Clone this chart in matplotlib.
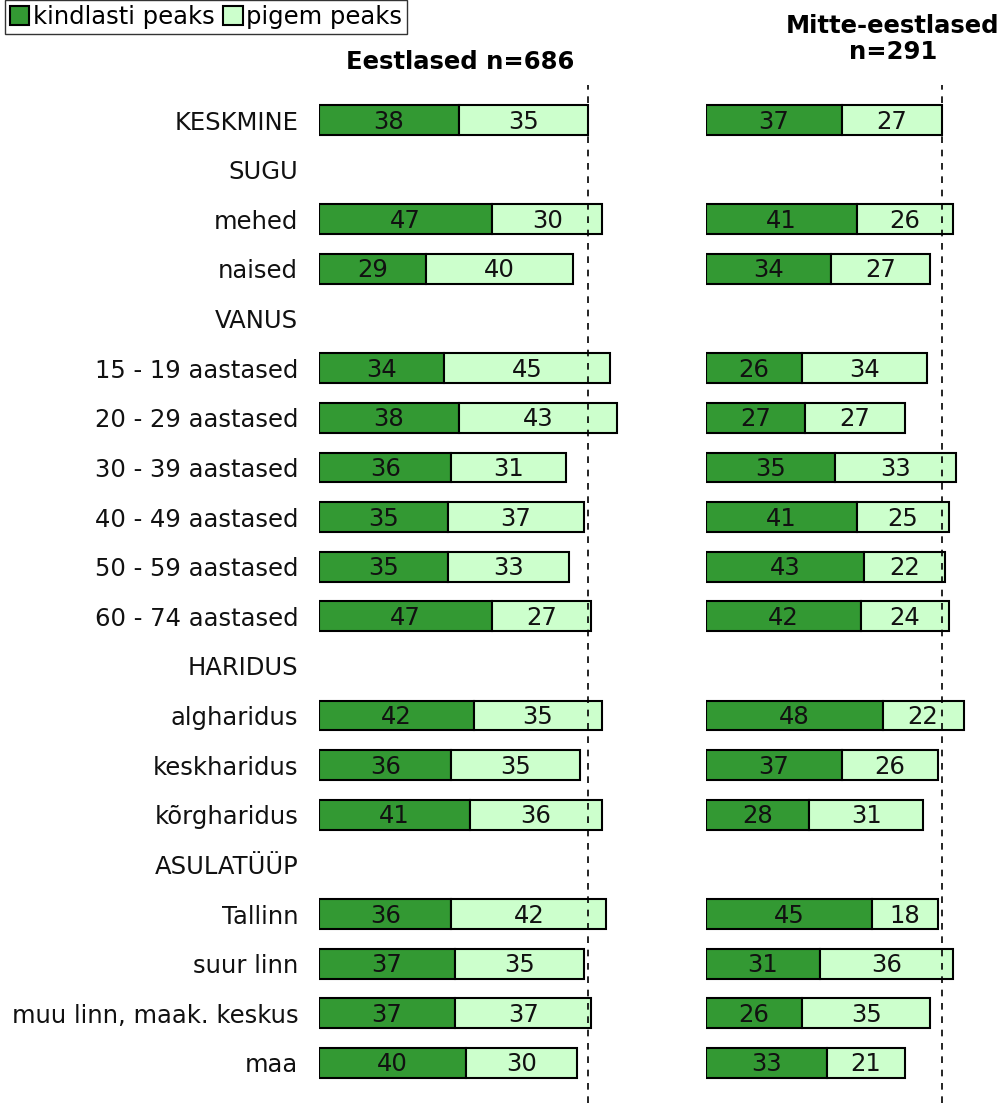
import matplotlib

matplotlib.use("Agg")
import matplotlib.pyplot as plt
from matplotlib.patches import Patch
import numpy as np

DARK = "#339933"
LIGHT = "#ccffcc"
FS = 17.5

categories = [
    "KESKMINE", "SUGU", "mehed", "naised", "VANUS",
    "15 - 19 aastased", "20 - 29 aastased", "30 - 39 aastased",
    "40 - 49 aastased", "50 - 59 aastased", "60 - 74 aastased",
    "HARIDUS", "algharidus", "keskharidus", "kõrgharidus",
    "ASULATÜÜP", "Tallinn", "suur linn", "muu linn, maak. keskus", "maa",
]

# None marks a group heading row without bars
est_sure = [38, None, 47, 29, None, 34, 38, 36, 35, 35, 47, None, 42, 36, 41, None, 36, 37, 37, 40]
est_rather = [35, None, 30, 40, None, 45, 43, 31, 37, 33, 27, None, 35, 35, 36, None, 42, 35, 37, 30]
non_sure = [37, None, 41, 34, None, 26, 27, 35, 41, 43, 42, None, 48, 37, 28, None, 45, 31, 26, 33]
non_rather = [27, None, 26, 27, None, 34, 27, 33, 25, 22, 24, None, 22, 26, 31, None, 18, 36, 35, 21]

W, H = 998, 1104
fig = plt.figure(figsize=(W / 100, H / 100), dpi=100)
fig.patch.set_facecolor("white")

PX_PER_UNIT = 3.68
top_px, bot_px = 85.3, 1102.7


def panel(left_px, xmax, sure, rather, show_labels):
    width_px = xmax * PX_PER_UNIT
    ax = fig.add_axes([left_px / W, 1 - bot_px / H, width_px / W, (bot_px - top_px) / H])
    y = np.arange(len(categories))
    for i, (a, b) in enumerate(zip(sure, rather)):
        if a is None:
            continue
        ax.barh(i, a, height=0.6, color=DARK, edgecolor="black", linewidth=1.5)
        ax.barh(i, b, left=a, height=0.6, color=LIGHT, edgecolor="black", linewidth=1.5)
        ax.text(a / 2, i + 0.03, str(a), ha="center", va="center", fontsize=FS, color="#111111")
        ax.text(a + b / 2, i + 0.03, str(b), ha="center", va="center", fontsize=FS, color="#111111")
    ax.axvline(sure[0] + rather[0], color="black", linestyle=(0, (4, 4)), linewidth=1.2)
    ax.set_xlim(0, xmax)
    ax.set_ylim(19.8, -0.7)
    ax.set_xticks([])
    ax.set_yticks(y)
    if show_labels:
        ax.set_yticklabels(categories, fontsize=FS, color="#111111")
    else:
        ax.set_yticklabels([])
    ax.tick_params(axis="y", length=0, pad=15)
    for s in ax.spines.values():
        s.set_visible(False)
    return ax


panel(319, 90, est_sure, est_rather, True)
panel(706, 78, non_sure, non_rather, False)

fig.text(460 / W, 1 - 62 / H, "Eestlased n=686", ha="center", va="center",
         fontsize=FS, fontweight="bold")
fig.text(893 / W, 1 - 39 / H, "Mitte-eestlased\nn=291", ha="center", va="center",
         fontsize=FS, fontweight="bold", linespacing=1.15)

handles = [
    Patch(facecolor=DARK, edgecolor="black", linewidth=1.5, label="kindlasti peaks"),
    Patch(facecolor=LIGHT, edgecolor="black", linewidth=1.5, label="pigem peaks"),
]
fig.legend(handles=handles, loc="upper left", bbox_to_anchor=(0.005, 1.0), ncol=2,
           fontsize=FS, frameon=True, fancybox=False, edgecolor="black",
           handlelength=0.8, handleheight=0.8, handletextpad=0.15, columnspacing=0.35,
           borderpad=0.2, borderaxespad=0.0)

fig.savefig("out.png", dpi=100)
